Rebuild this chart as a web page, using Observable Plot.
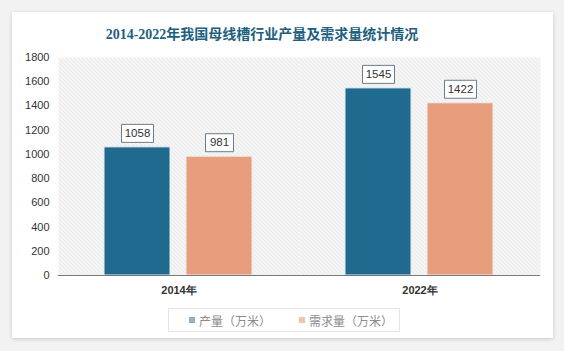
<!DOCTYPE html>
<html>
<head>
<meta charset="utf-8">
<script src="https://cdn.jsdelivr.net/npm/d3@7"></script>
<script src="https://cdn.jsdelivr.net/npm/@observablehq/plot@0.6"></script>
<style>
  html, body { margin: 0; padding: 0; }
  body { width: 564px; height: 351px; background: #f2f2f2; position: relative; overflow: hidden;
         font-family: "Liberation Sans", "Noto Sans CJK SC", sans-serif; }
  #card { position: absolute; left: 12px; top: 12px; width: 541px; height: 326px; background: #fff;
          box-shadow: 0 1px 4px rgba(0,0,0,0.18); }
  #title { position: absolute; left: 12px; top: 23px; width: 500px; text-align: center;
           font: bold 14px "Liberation Serif", "Noto Sans CJK SC", serif; color: #225e7d; }
  #chart { position: absolute; left: 0; top: 45px; }
  #legend { position: absolute; left: 168px; top: 308px; width: 230px; height: 22px;
            border: 1px solid #e4e4e4; font: 12px "Noto Sans CJK SC", sans-serif; color: #8c8c8c;
            display: flex; align-items: center; }
  .sw { display: inline-block; width: 6px; height: 6px; margin-right: 4px; }
  .item { display: flex; align-items: center; }
</style>
</head>
<body>
<div id="card"></div>
<div id="title">2014-2022年我国母线槽行业产量及需求量统计情况</div>
<div id="chart"></div>
<div id="legend"></div>
<script>
const years = ["2014年", "2022年"];
const series = ["产量（万米）", "需求量（万米）"];
const production = [1058, 1545];
const demand = [981, 1422];
const yTicks = [0, 200, 400, 600, 800, 1000, 1200, 1400, 1600, 1800];
const colors = ["#1f6a8e", "#e89d7c"];
const legendColors = ["#8fb0c6", "#f0c2b0"];

const rows = [];
years.forEach((yr, i) => {
  rows.push({year: yr, series: series[0], value: production[i]});
  rows.push({year: yr, series: series[1], value: demand[i]});
});

function boxSymbol(w, h) {
  return { draw(ctx) { ctx.rect(-w / 2, -h / 2, w, h); } };
}

const chart = Plot.plot({
  width: 564,
  height: 265,
  marginLeft: 57,
  marginRight: 24,
  marginTop: 12,
  marginBottom: 35,
  style: { fontFamily: "Liberation Sans, sans-serif", fontSize: "11px", color: "#333", background: "transparent" },
  fx: { domain: years, padding: 0, tickSize: 0, tickPadding: 11, label: null },
  x: { domain: series, axis: null, paddingInner: 0.193, paddingOuter: 0.551 },
  y: { domain: [0, 1800], ticks: yTicks, tickSize: 0, tickPadding: 9, label: null, tickFormat: d => String(d) },
  color: { domain: series, range: colors },
  facet: { data: rows, x: "year" },
  marks: [
    Plot.frame({ fill: "url(#hatch)", stroke: "none" }),
    Plot.barY(rows, { x: "series", y: "value", fill: "series", stroke: "#e6eef2", strokeWidth: 1 }),
    Plot.ruleY([0], { stroke: "#7a7a7a", strokeWidth: 1 }),
    Plot.dot(rows, { filter: d => String(d.value).length >= 4, x: "series", y: "value", dy: -14,
      symbol: boxSymbol(32, 18), fill: "#fff", stroke: "#6b7d8a", strokeWidth: 1 }),
    Plot.dot(rows, { filter: d => String(d.value).length < 4, x: "series", y: "value", dy: -14,
      symbol: boxSymbol(28, 18), fill: "#fff", stroke: "#6b7d8a", strokeWidth: 1 }),
    Plot.text(rows, { x: "series", y: "value", text: d => String(d.value), dy: -14,
      fill: "#333", fontSize: 11.5 })
  ]
});

chart.insertAdjacentHTML("afterbegin",
  '<defs><pattern id="hatch" patternUnits="userSpaceOnUse" width="4" height="4">' +
  '<rect width="4" height="4" fill="#f7f7f7"/>' +
  '<path d="M-1,-1 L5,5 M-1,3 L1,5 M3,-1 L5,1" stroke="#dcdcdc" stroke-width="0.8"/>' +
  '</pattern></defs>');

chart.querySelectorAll("g[aria-label='fx-axis'] text, g[aria-label='fx-axis tick label'] text").forEach(t => {
  t.setAttribute("font-weight", "bold");
});
document.getElementById("chart").appendChild(chart);

const legend = document.getElementById("legend");
series.forEach((s, i) => {
  const item = document.createElement("span");
  item.className = "item";
  item.style.marginLeft = i === 0 ? "20px" : "28px";
  const sw = document.createElement("span");
  sw.className = "sw";
  sw.style.background = legendColors[i];
  item.appendChild(sw);
  item.appendChild(document.createTextNode(s));
  legend.appendChild(item);
});
</script>
</body>
</html>
